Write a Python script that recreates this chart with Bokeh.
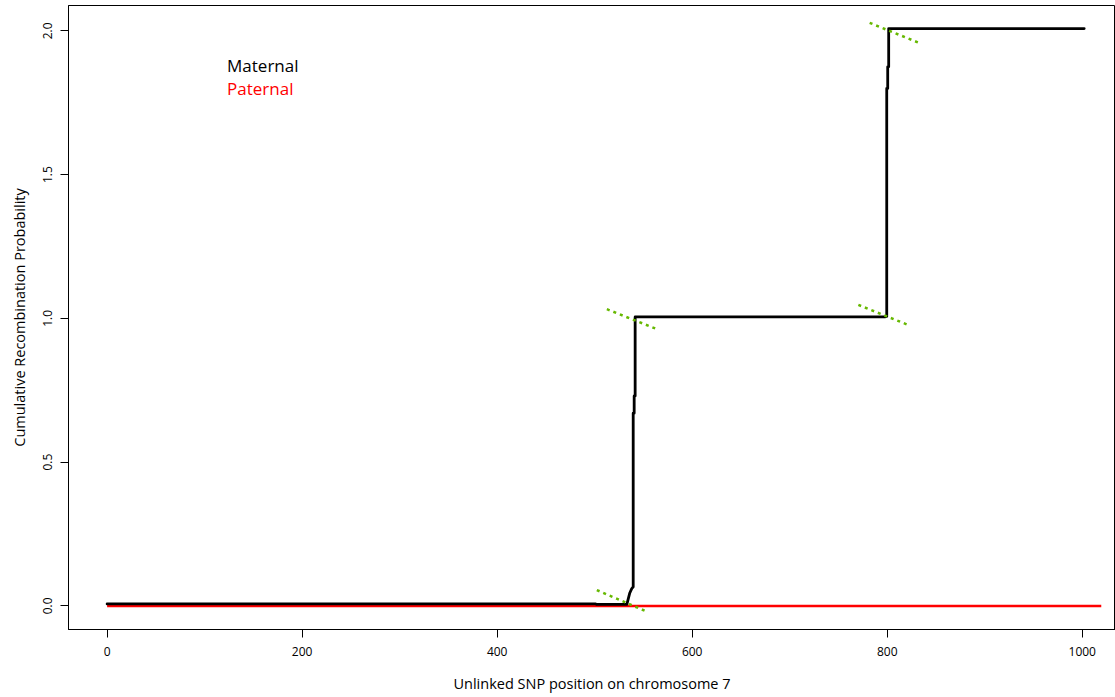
from bokeh.plotting import figure
from bokeh.models import Range1d, FixedTicker, PrintfTickFormatter, Label
from bokeh.embed import file_html
from bokeh.resources import INLINE

# Maternal cumulative recombination probability (step curve)
mat_x = [0, 501, 502, 533, 536, 538, 539.5, 539.5, 540.5, 540.5, 541.5, 541.5,
         797.5, 799.5, 799.5, 800.5, 800.5, 801.5, 801.5, 1002]
mat_y = [0.007, 0.007, 0.005, 0.005, 0.045, 0.06, 0.066, 0.67, 0.67, 0.73, 0.73, 1.005,
         1.005, 1.007, 1.80, 1.80, 1.875, 1.875, 2.008, 2.008]

# Paternal cumulative recombination probability
pat_x = [0, 1019.5]
pat_y = [0.0, 0.0]

# Green dotted transition markers
gx0 = [502.2, 512.5, 770.4, 782.0]
gy0 = [0.055, 1.032, 1.047, 2.028]
gx1 = [554.1, 565.0, 822.3, 834.3]
gy1 = [-0.021, 0.961, 0.976, 1.956]

x_ticks = [0, 200, 400, 600, 800, 1000]
y_ticks = [0.0, 0.5, 1.0, 1.5, 2.0]
legend_labels = ["Maternal", "Paternal"]
legend_colors = ["black", "#ff0000"]

FONT = "Open Sans"

p = figure(width=1115, height=697, output_backend="svg", toolbar_location=None,
           x_range=Range1d(-39.6, 1034.1), y_range=Range1d(-0.0821, 2.0883),
           min_border_left=68, min_border_right=0, min_border_top=5, min_border_bottom=68)
p.background_fill_color = "white"
p.border_fill_color = "white"
p.outline_line_color = "black"
p.outline_line_width = 1
p.xgrid.visible = False
p.ygrid.visible = False

p.line(pat_x, pat_y, line_color="#ff0000", line_width=2.5)
p.line(mat_x, mat_y, line_color="black", line_width=2.8, line_join="round", line_cap="round")
p.segment(gx0, gy0, gx1, gy1, line_color="#66b800", line_width=2.5, line_dash="3 4")

for ax in (p.xaxis[0], p.yaxis[0]):
    ax.axis_line_color = "black"
    ax.major_tick_line_color = "black"
    ax.major_tick_out = 8
    ax.major_tick_in = 0
    ax.minor_tick_line_color = None
    ax.major_label_text_font = FONT
    ax.major_label_text_font_size = "12px"
    ax.major_label_text_color = "black"
    ax.axis_label_text_font = FONT
    ax.axis_label_text_font_size = "14.5px"
    ax.axis_label_text_font_style = "normal"
    ax.axis_label_text_color = "black"

p.xaxis.ticker = FixedTicker(ticks=x_ticks)
p.yaxis.ticker = FixedTicker(ticks=y_ticks)
p.yaxis.formatter = PrintfTickFormatter(format="%.1f")
p.yaxis.major_label_orientation = "vertical"
p.xaxis.axis_label = "Unlinked SNP position on chromosome 7"
p.yaxis.axis_label = "Cumulative Recombination Probability"
p.xaxis.major_label_standoff = 9
p.xaxis.axis_label_standoff = 15
p.yaxis.major_label_standoff = 8
p.yaxis.axis_label_standoff = 12

legend_y = [1.881, 1.800]
for lab, col, ly in zip(legend_labels, legend_colors, legend_y):
    p.add_layout(Label(x=123.0, y=ly, text=lab, text_color=col, text_font=FONT,
                       text_font_size="17px", text_baseline="middle", text_align="left"))

open("out.html", "w").write(file_html(p, INLINE))
